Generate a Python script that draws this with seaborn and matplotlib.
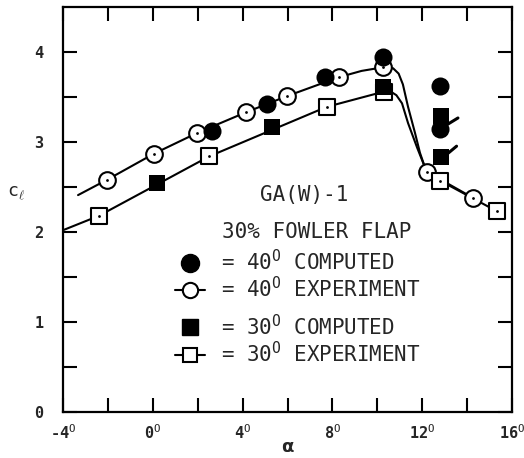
import numpy as np
import pandas as pd
import matplotlib
matplotlib.use("Agg")
import matplotlib.pyplot as plt
import matplotlib.transforms as mtransforms
from matplotlib.lines import Line2D
import seaborn as sns

# ---------------- data ----------------
alpha_40_exp = [-2.04, 0.05, 1.97, 4.15, 5.98, 8.29, 10.25, 12.2, 14.26]
cl_40_exp = [2.58, 2.87, 3.10, 3.33, 3.51, 3.72, 3.83, 2.67, 2.38]

alpha_30_exp = [-2.40, 2.51, 7.74, 10.30, 12.8, 15.33]
cl_30_exp = [2.18, 2.84, 3.39, 3.56, 2.57, 2.23]

alpha_40_comp = [2.64, 5.09, 7.67, 10.25, 12.8, 12.8]
cl_40_comp = [3.12, 3.42, 3.72, 3.95, 3.62, 3.15]

alpha_30_comp = [0.19, 5.30, 10.25, 12.85, 12.85]
cl_30_comp = [2.54, 3.17, 3.61, 3.29, 2.83]

# faired curves through the experimental data
curve_40_alpha = [-3.33, -2.04, 0.05, 1.97, 4.15, 5.98, 8.29, 9.3, 10.25, 10.7, 10.95,
                  11.14, 11.37, 11.68, 11.90, 12.12, 12.2, 14.26]
curve_40_cl = [2.41, 2.58, 2.87, 3.10, 3.33, 3.51, 3.72, 3.79, 3.83, 3.82, 3.76,
               3.64, 3.39, 3.10, 2.88, 2.72, 2.67, 2.38]
curve_30_alpha = [-4.0, -2.40, 2.51, 7.74, 10.30, 10.60, 10.85, 11.10, 11.37, 11.77,
                  12.04, 12.2, 12.8, 15.33]
curve_30_cl = [2.02, 2.18, 2.84, 3.39, 3.56, 3.56, 3.52, 3.43, 3.21, 2.94,
               2.77, 2.67, 2.57, 2.23]

x_ticks = [-4, 0, 4, 8, 12, 16]
x_ticklabels = ["-4$^{\\mathrm{O}}$", "0$^{\\mathrm{O}}$", "4$^{\\mathrm{O}}$",
                "8$^{\\mathrm{O}}$", "12$^{\\mathrm{O}}$", "16$^{\\mathrm{O}}$"]
y_ticks = [0, 1, 2, 3, 4]
y_ticklabels = ["0", "1", "2", "3", "4"]

legend_labels = ["= 40$^{\\mathrm{O}}$ COMPUTED", "= 40$^{\\mathrm{O}}$ EXPERIMENT",
                 "= 30$^{\\mathrm{O}}$ COMPUTED", "= 30$^{\\mathrm{O}}$ EXPERIMENT"]

# ---------------- style ----------------
sns.set_style("ticks")
plt.rcParams["font.family"] = ["DejaVu Sans Mono", "DejaVu Sans"]
plt.rcParams["mathtext.fontset"] = "custom"
plt.rcParams["mathtext.rm"] = "DejaVu Sans Mono"
plt.rcParams["mathtext.it"] = "DejaVu Sans Mono:italic"

fig = plt.figure(figsize=(5.24, 4.58), dpi=100)
ax = fig.add_axes([63 / 524, 1 - 412 / 458, 449 / 524, 405 / 458])

LW = 1.5
MS = 12

# faired curves
sns.lineplot(x=curve_40_alpha, y=curve_40_cl, sort=False, estimator=None,
             color="black", lw=LW, ax=ax)
sns.lineplot(x=curve_30_alpha, y=curve_30_cl, sort=False, estimator=None,
             color="black", lw=LW, ax=ax)

# experimental points (open)
sns.scatterplot(x=alpha_40_exp, y=cl_40_exp, marker="o", s=MS ** 2,
                facecolor="white", edgecolor="black", linewidth=LW, ax=ax, zorder=3)
sns.scatterplot(x=alpha_30_exp, y=cl_30_exp, marker="s", s=(MS - 1) ** 2,
                facecolor="white", edgecolor="black", linewidth=LW, ax=ax, zorder=3)
sns.scatterplot(x=alpha_40_exp + alpha_30_exp, y=cl_40_exp + cl_30_exp, marker="o",
                s=4, color="black", linewidth=0, ax=ax, zorder=4)

# computed points (filled)
sns.scatterplot(x=alpha_40_comp, y=cl_40_comp, marker="o", s=(MS + 1) ** 2,
                color="black", linewidth=0, ax=ax, zorder=5)
sns.scatterplot(x=alpha_30_comp, y=cl_30_comp, marker="s", s=MS ** 2,
                color="black", linewidth=0, ax=ax, zorder=5)

# small hand-drawn strokes on the two post-stall computed squares
def stroke(xd, yd, p0, p1):
    tr = mtransforms.Affine2D().scale(fig.dpi / 72.0) + \
        mtransforms.ScaledTranslation(xd, yd, ax.transData)
    ln = Line2D([p0[0], p1[0]], [p0[1], p1[1]], color="black", lw=2.2,
                transform=tr, zorder=6, solid_capstyle="round")
    ax.add_line(ln)

stroke(alpha_30_comp[3], cl_30_comp[3], (3, -7), (12, -1.5))
stroke(alpha_30_comp[4], cl_30_comp[4], (5, 3), (11, 8))

# axes formatting
ax.set_xlim(-4, 16)
ax.set_ylim(0, 4.5)
ax.set_xticks(x_ticks)
ax.set_xticklabels(x_ticklabels, fontsize=11, fontweight="bold")
ax.set_xticks(np.arange(-2, 16, 4), minor=True)
ax.set_yticks(y_ticks)
ax.set_yticklabels(y_ticklabels, fontsize=11, fontweight="bold")
ax.set_yticks(np.arange(0.5, 4.5, 1.0), minor=True)
ax.tick_params(which="both", direction="in", length=10, width=1.5,
               top=True, right=True, color="black")
ax.tick_params(axis="x", which="major", pad=8)
ax.tick_params(axis="y", which="major", pad=14)
for sp in ax.spines.values():
    sp.set_linewidth(1.6)
    sp.set_color("black")

ax.set_xlabel("α", fontsize=13, fontweight="bold", family="DejaVu Sans", labelpad=-3)
ax.set_ylabel("c$_{\\ell}$", fontsize=13, rotation=0, va="center", ha="center")
ax.yaxis.set_label_coords(-0.105, 0.54)

# annotations
ax.text(6.73, 2.41, "GA(W)-1", fontsize=15, ha="center", va="center")
ax.text(7.31, 2.0, "30% FOWLER FLAP", fontsize=15, ha="center", va="center")

h1 = Line2D([], [], marker="o", ms=MS + 1, color="black", lw=0)
h2 = Line2D([], [], marker="o", ms=MS - 1, color="black", mfc="white", mew=LW, lw=LW)
h3 = Line2D([], [], marker="s", ms=MS - 1, color="black", lw=0)
h4 = Line2D([], [], marker="s", ms=MS - 2, color="black", mfc="white", mew=LW, lw=LW)

leg_kw = dict(frameon=False, fontsize=15, handlelength=1.45, handletextpad=0.75,
              labelspacing=0.1, borderpad=0, borderaxespad=0, loc="upper left")
leg1 = ax.legend([h1, h2], legend_labels[:2], bbox_to_anchor=(0.25, 0.403), **leg_kw)
ax.add_artist(leg1)
ax.legend([h3, h4], legend_labels[2:], bbox_to_anchor=(0.25, 0.243), **leg_kw)

fig.savefig("out.png", dpi=100)
